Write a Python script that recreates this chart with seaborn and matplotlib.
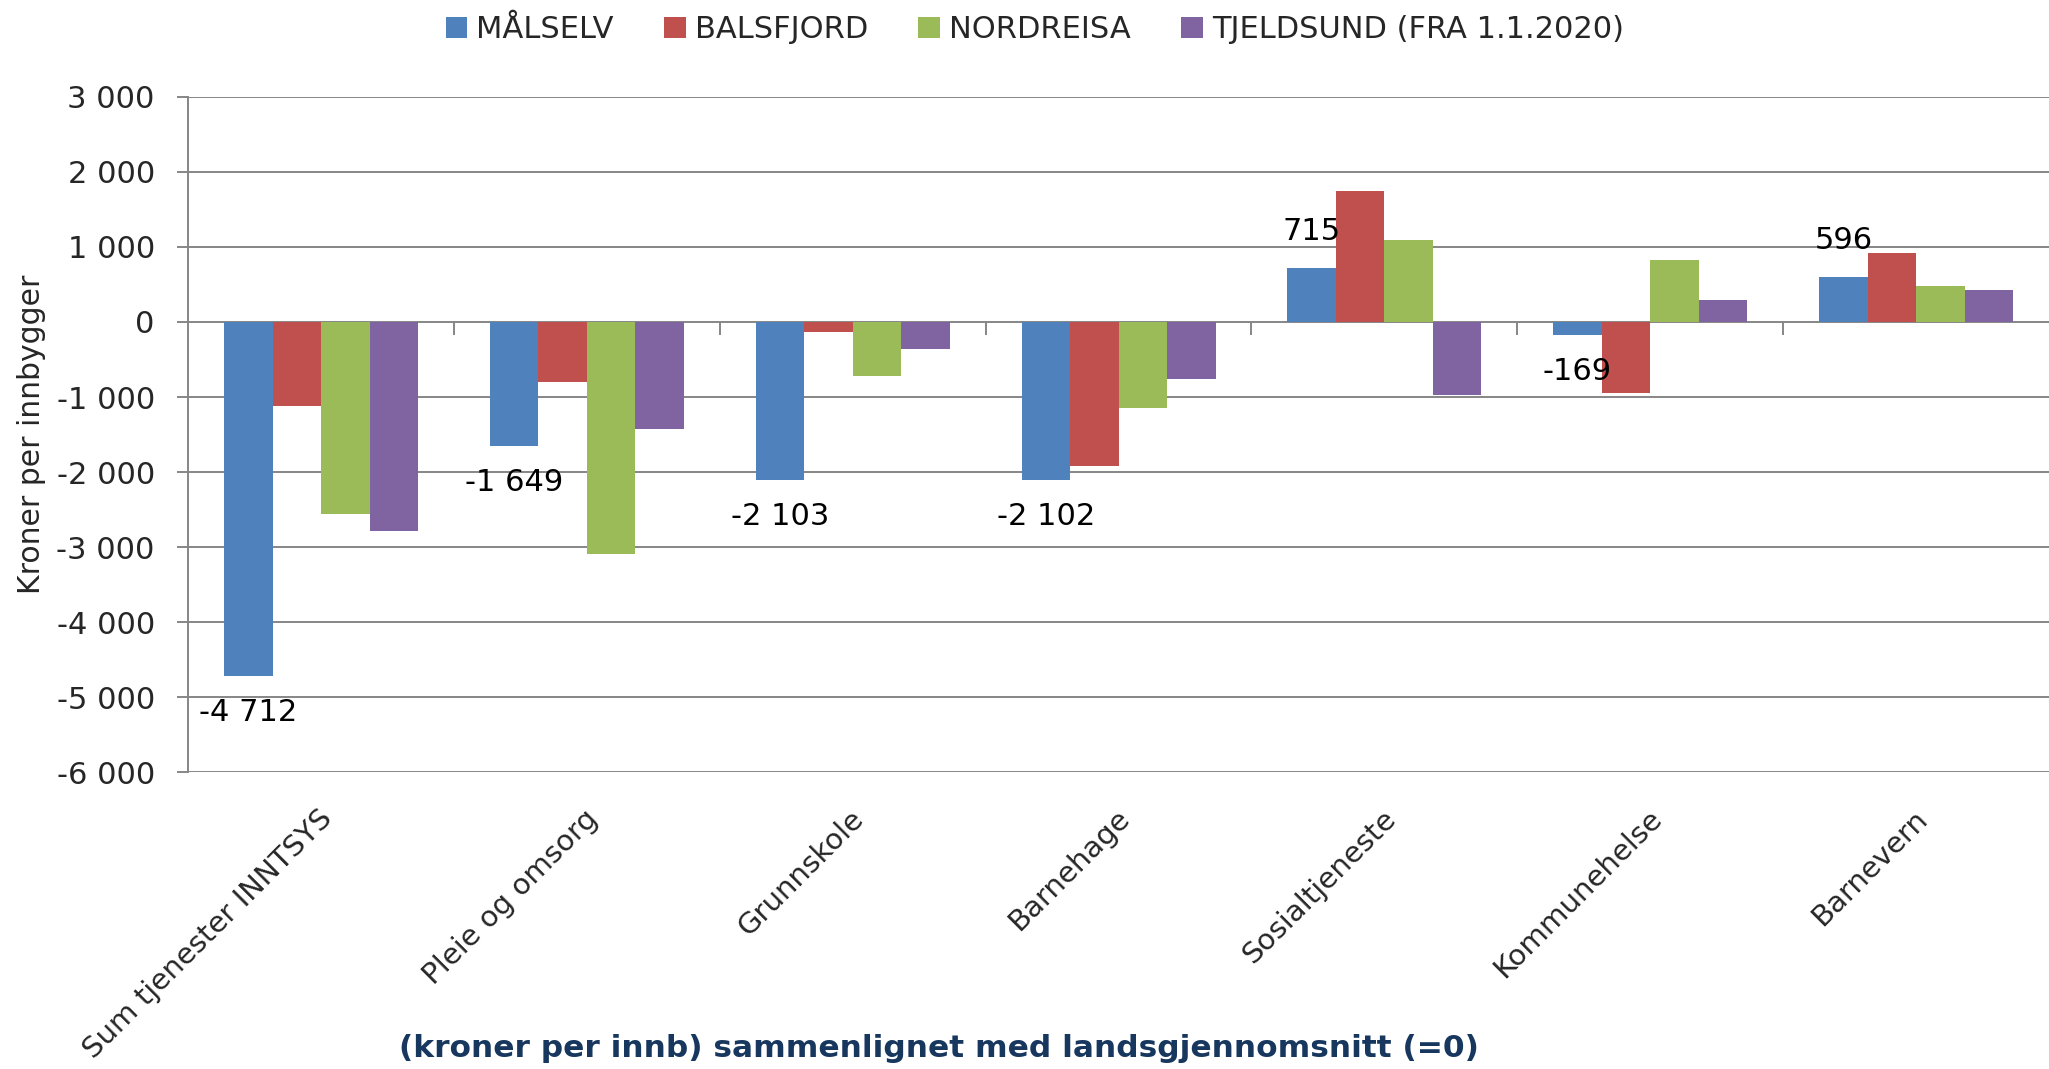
import matplotlib
matplotlib.use("Agg")
import matplotlib.pyplot as plt
import matplotlib.ticker as mticker
from matplotlib.transforms import ScaledTranslation
import numpy as np
import pandas as pd
import seaborn as sns

categories = ["Sum tjenester INNTSYS", "Pleie og omsorg", "Grunnskole", "Barnehage",
              "Sosialtjeneste", "Kommunehelse", "Barnevern"]
kommuner = ["MÅLSELV", "BALSFJORD", "NORDREISA", "TJELDSUND (FRA 1.1.2020)"]
malselv = [-4712, -1649, -2103, -2102, 715, -169, 596]
balsfjord = [-1120, -795, -130, -1915, 1745, -945, 918]
nordreisa = [-2560, -3095, -715, -1150, 1085, 828, 482]
tjeldsund = [-2790, -1428, -367, -757, -968, 289, 427]
colors = ["#4F81BD", "#C0504D", "#9BBB59", "#8064A2"]
y_ticks = list(range(-6000, 3001, 1000))

GRID = "#868686"
NAVY = "#17375E"


def thousands(v):
    return f"{int(round(v)):,}".replace(",", " ")


sns.set_theme(style="white")
plt.rcParams["font.family"] = ["DejaVu Sans"]

df = pd.DataFrame({
    "tjeneste": categories * len(kommuner),
    "kommune": np.repeat(kommuner, len(categories)),
    "kroner": malselv + balsfjord + nordreisa + tjeldsund,
})

fig = plt.figure(figsize=(20.49, 10.69), dpi=100)
ax = fig.add_axes([0.0918, 0.2775, 0.9082, 0.632])
ax.set_axisbelow(True)

sns.barplot(data=df, x="tjeneste", y="kroner", hue="kommune", order=categories,
            hue_order=kommuner, palette=colors, width=0.73, saturation=1,
            errorbar=None, linewidth=0, ax=ax)

leg = ax.get_legend()
handles = leg.legend_handles
labels = [t.get_text() for t in leg.get_texts()]
leg.remove()
fig.legend(handles, labels, loc="center", bbox_to_anchor=(0.505, 0.972), ncol=4,
           frameon=False, fontsize=22, handlelength=0.7, handleheight=0.7,
           handletextpad=0.3, columnspacing=1.65)

# data labels only for the first kommune
first = ax.containers[0]
ax.bar_label(first, labels=[thousands(v) for v in first.datavalues], padding=16,
             fontsize=22, color="black")

ax.set_ylim(y_ticks[0], y_ticks[-1])
ax.set_yticks(y_ticks)
ax.yaxis.set_major_formatter(mticker.FuncFormatter(lambda v, p: thousands(v)))
ax.grid(axis="y", color=GRID, linewidth=1.4)
ax.grid(axis="x", visible=False)
for side in ["top", "right", "bottom"]:
    ax.spines[side].set_visible(False)
ax.spines["left"].set_color(GRID)
ax.spines["left"].set_linewidth(1.4)
ax.tick_params(axis="y", direction="out", length=8, width=1.4, color=GRID,
               labelsize=22, pad=16, left=True)
ax.tick_params(axis="x", length=0, labelsize=21, pad=23)
ax.set_xticks(range(len(categories)))
ax.set_xticklabels(categories, rotation=45, ha="right", va="top", rotation_mode="anchor")
for lbl in ax.get_xticklabels():
    lbl.set_transform(lbl.get_transform() + ScaledTranslation(-0.03, 0, fig.dpi_scale_trans))

ax.set_xlabel("")
ax.set_ylabel("Kroner per innbygger", fontsize=21.5)
ax.yaxis.set_label_coords(-0.0765, 0.5)

# category divider ticks hanging from the zero line
ymin, ymax = ax.get_ylim()
sec = ax.secondary_xaxis((0 - ymin) / (ymax - ymin))
sec.set_xticks(np.arange(len(categories) - 1) + 0.5)
sec.tick_params(direction="in", length=9, width=1.4, color=GRID, labeltop=False,
                labelbottom=False)
for s in sec.spines.values():
    s.set_visible(False)

fig.text(0.458, 0.019, "(kroner per innb) sammenlignet med landsgjennomsnitt (=0)",
         ha="center", va="center", fontsize=22.5, fontweight="bold", color=NAVY)

fig.savefig("out.png", dpi=100)
